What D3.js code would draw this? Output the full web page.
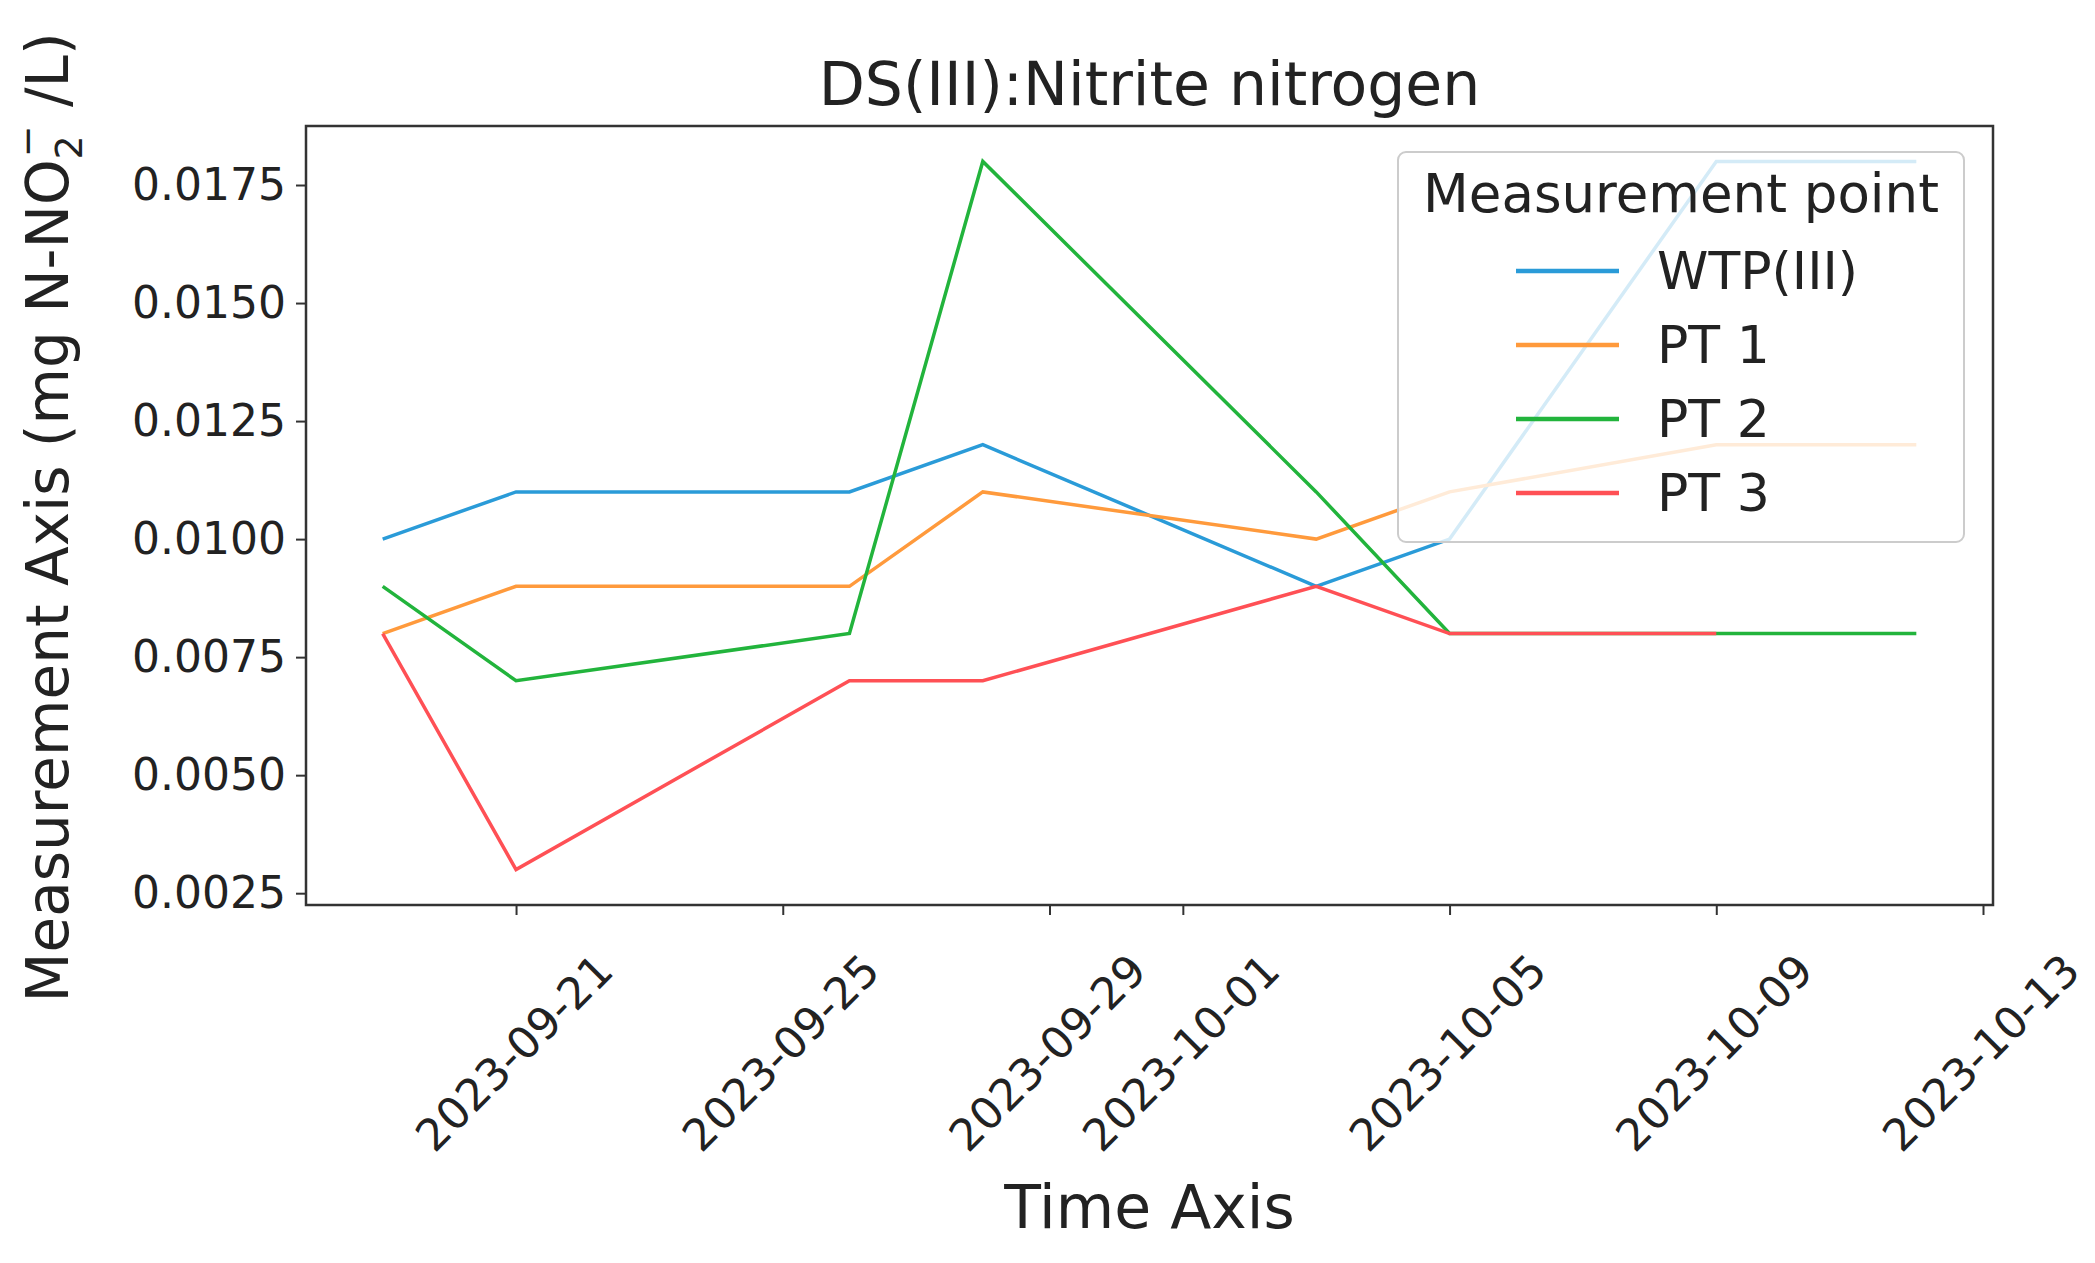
<!DOCTYPE html>
<html><head><meta charset="utf-8">
<script src="https://cdn.jsdelivr.net/npm/d3@7"></script>
<style>body{margin:0;background:#fff}</style></head>
<body><svg id="c" width="2095" height="1263"></svg>
<script>
const dates = ["2023-09-19","2023-09-21","2023-09-26","2023-09-28","2023-10-03","2023-10-05","2023-10-09","2023-10-12"];
const wtp = [0.010,0.011,0.011,0.012,0.009,0.010,0.018,0.018];
const pt1 = [0.008,0.009,0.009,0.011,0.010,0.011,0.012,0.012];
const pt2 = [0.009,0.007,0.008,0.018,0.011,0.008,0.008,0.008];
const pt3 = [0.008,0.003,0.007,0.007,0.009,0.008,0.008,null];
const seriesNames = ["WTP(III)","PT 1","PT 2","PT 3"];
const seriesColors = ["#2a9bd8","#ff9a3c","#22b43c","#ff5055"];
const xTicks = ["2023-09-21","2023-09-25","2023-09-29","2023-10-01","2023-10-05","2023-10-09","2023-10-13"];
const yTicks = [0.0025,0.0050,0.0075,0.0100,0.0125,0.0150,0.0175];

const parse = d3.utcParse("%Y-%m-%d");
const svg = d3.select("#c");
const font = "DejaVu Sans";
const L=306,R=1993,T=126,B=905;
const d0=parse(dates[0]), d1=parse(dates[dates.length-1]);
const span=(d1-d0)*0.05;
const x=d3.scaleUtc().domain([new Date(+d0-span),new Date(+d1+span)]).range([L,R]);
const y=d3.scaleLinear().domain([0.00225,0.01875]).range([B,T]);

const all=[wtp,pt1,pt2,pt3];
const line=d3.line().defined(d=>d[1]!=null).x(d=>x(parse(d[0]))).y(d=>y(d[1]));
all.forEach((s,i)=>{
  svg.append("path").attr("d",line(dates.map((d,j)=>[d,s[j]])))
    .attr("fill","none").attr("stroke",seriesColors[i]).attr("stroke-width",3.5);
});

const gy=svg.append("g").attr("transform",`translate(${L},0)`)
  .call(d3.axisLeft(y).tickValues(yTicks).tickFormat(d3.format(".4f")).tickSize(10).tickPadding(10));
const gx=svg.append("g").attr("transform",`translate(0,${B})`)
  .call(d3.axisBottom(x).tickValues(xTicks.map(parse)).tickFormat(d3.utcFormat("%Y-%m-%d")).tickSize(10));
[gx,gy].forEach(g=>{g.select(".domain").remove();g.selectAll("line").attr("stroke","#333").attr("stroke-width",2);
  g.selectAll("text").attr("font-family",font).attr("font-size",44).attr("fill","#222");});
gx.selectAll("text").attr("text-anchor","middle").attr("dy",null).attr("y",0).attr("dominant-baseline","middle")
  .attr("transform","translate(0,150) rotate(-45)");
svg.append("rect").attr("x",L).attr("y",T).attr("width",R-L).attr("height",B-T)
  .attr("fill","none").attr("stroke","#333").attr("stroke-width",2.5);

svg.append("text").attr("x",(L+R)/2).attr("y",105).attr("text-anchor","middle")
  .attr("font-family",font).attr("font-size",60).attr("fill","#222").text("DS(III):Nitrite nitrogen");
svg.append("text").attr("x",(L+R)/2).attr("y",1228).attr("text-anchor","middle")
  .attr("font-family",font).attr("font-size",60).attr("fill","#222").text("Time Axis");
const yl=svg.append("text").attr("transform",`translate(68,${(T+B)/2+2}) rotate(-90)`).attr("text-anchor","middle")
  .attr("font-family",font).attr("font-size",58).attr("fill","#222");
yl.append("tspan").text("Measurement Axis (mg N-NO");
yl.append("tspan").attr("font-size",38).attr("dy",14).text("2");
yl.append("tspan").attr("font-size",38).attr("dy",-42).attr("dx",-22).text("−");
yl.append("tspan").attr("dy",28).text(" /L)");

// legend
const lg=svg.append("g");
lg.append("rect").attr("x",1398).attr("y",152).attr("width",566).attr("height",390).attr("rx",8)
  .attr("fill","#fff").attr("fill-opacity",0.8).attr("stroke","#ccc").attr("stroke-width",2);
lg.append("text").attr("x",1681).attr("y",212).attr("text-anchor","middle").attr("font-family",font)
  .attr("font-size",53).attr("fill","#222").text("Measurement point");
seriesNames.forEach((n,i)=>{
  const yy=271+i*74;
  lg.append("line").attr("x1",1516).attr("x2",1619).attr("y1",yy).attr("y2",yy)
    .attr("stroke",seriesColors[i]).attr("stroke-width",4.5);
  lg.append("text").attr("x",1657).attr("y",yy+18).attr("font-family",font).attr("font-size",52)
    .attr("fill","#222").text(n);
});
</script></body></html>
